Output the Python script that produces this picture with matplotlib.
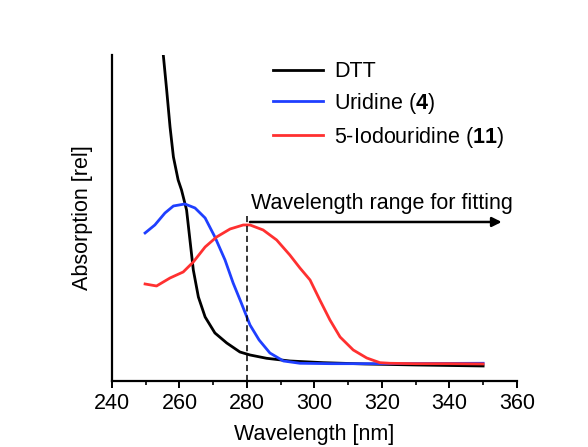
import matplotlib
matplotlib.use("Agg")
import matplotlib.pyplot as plt
from matplotlib.ticker import MultipleLocator

plt.rcParams['font.family'] = ['Liberation Sans', 'DejaVu Sans']
plt.rcParams['mathtext.fontset'] = 'custom'
plt.rcParams['mathtext.rm'] = 'Liberation Sans'
plt.rcParams['mathtext.bf'] = 'Liberation Sans:bold'

# absorption spectra (relative units)
dtt_wl = [254.9, 255.2, 256.2, 257.2, 258.2, 259.6, 260.6, 262.1, 263.1, 264.1, 265.6,
          267.6, 270.5, 274.0, 277.9, 280.9, 285.8, 292.7, 302.6, 315.0, 330.0, 350.0]
dtt_abs = [345, 326, 291, 254, 224, 201, 191, 171, 141, 111, 84,
           64, 48, 38, 29, 26, 22.7, 20, 18.3, 17, 16, 15]

uri_wl = [249.8, 252.7, 255.7, 258.2, 261.6, 264.6, 267.6, 270.5, 273.5, 275.9,
          278.2, 280.9, 283.6, 286.8, 290.8, 295.7, 305.0, 320.0, 335.0, 350.0]
uri_abs = [148, 156, 168, 175, 177, 173, 163, 144, 121, 98,
           79, 56, 41, 28, 20, 17.7, 17.3, 17.3, 17.5, 17.7]

iod_wl = [249.8, 253.2, 257.2, 261.1, 264.1, 267.6, 271.0, 275.0, 278.9, 280.9,
          284.8, 288.8, 292.7, 295.7, 298.7, 301.6, 304.6, 307.6, 311.5, 315.5,
          319.4, 322.4, 330.0, 340.0, 350.0]
iod_abs = [97, 95, 103, 109, 119, 134, 144, 152, 156, 156,
           151, 141, 126, 113, 101, 81, 61, 44, 31, 23,
           18.3, 17.7, 17.3, 17.3, 17]

fit_start = 280
fit_end = 355.5

fig = plt.figure(figsize=(5.88, 4.47), dpi=100)
ax = fig.add_axes([0.1905, 0.1477, 0.879 - 0.1905, 0.877 - 0.1477])

lw = 2.0
ax.plot(dtt_wl, dtt_abs, color='black', lw=lw, label='DTT')
ax.plot(uri_wl, uri_abs, color='#1f3fff', lw=lw, label='Uridine ($\\mathbf{4}$)')
ax.plot(iod_wl, iod_abs, color='#ff3030', lw=lw, label='5-Iodouridine ($\\mathbf{11}$)')

ax.set_xlim(240, 360)
ax.set_ylim(0, 326)

# fitting range marker
ax.plot([fit_start, fit_start], [0, 168], color='black', lw=1.1, ls=(0, (4, 2.5)))
ax.annotate('', xy=(fit_end, 159), xytext=(fit_start + 0.9, 159),
            arrowprops=dict(arrowstyle='-|>', color='black', lw=1.8,
                            mutation_scale=14, shrinkA=0, shrinkB=0),
            annotation_clip=False)
ax.text(fit_start + 1.3, 177, 'Wavelength range for fitting', fontsize=15.5,
        ha='left', va='center')

for side in ['top', 'right']:
    ax.spines[side].set_visible(False)
for side in ['left', 'bottom']:
    ax.spines[side].set_linewidth(1.6)

ax.xaxis.set_major_locator(MultipleLocator(20))
ax.xaxis.set_minor_locator(MultipleLocator(10))
ax.tick_params(axis='x', which='major', direction='out', length=5, width=1.4,
               labelsize=15.5, pad=4)
ax.tick_params(axis='x', which='minor', direction='out', length=3, width=1.2)
ax.set_yticks([])

ax.set_xlabel('Wavelength [nm]', fontsize=15.5, labelpad=7)
ax.set_ylabel('Absorption [rel]', fontsize=15.5, labelpad=14)

leg = ax.legend(loc='upper left', bbox_to_anchor=(0.35, 1.04), frameon=False,
                fontsize=15.5, handlelength=2.3, handletextpad=0.55, labelspacing=0.4)

fig.savefig('out.png', dpi=100)
